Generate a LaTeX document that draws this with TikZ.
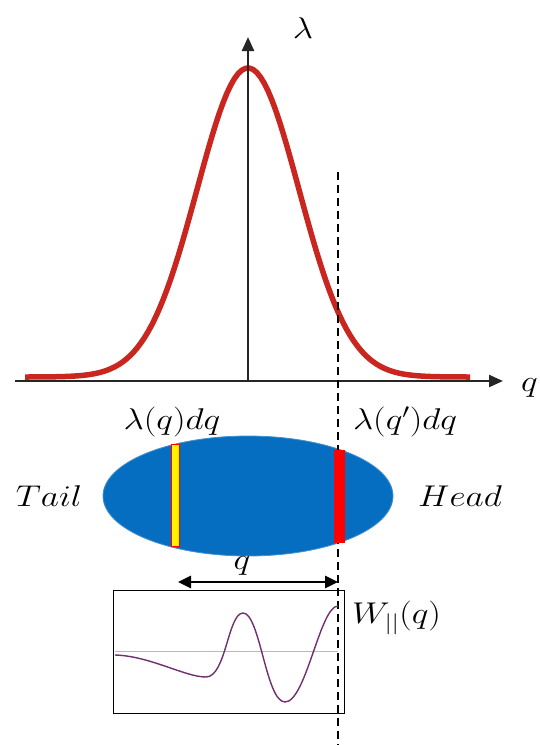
\RequirePackage{fix-cm}
\documentclass[tikz,border=0pt]{standalone}
\usetikzlibrary{arrows.meta,shapes.geometric}
\definecolor{curvered}{RGB}{200,38,30}
\definecolor{bunchblue}{RGB}{6,110,192}
\definecolor{wakepurple}{RGB}{112,48,110}
\newcommand{\wide}[1]{\scalebox{1.18}[1]{#1}}

\begin{document}
\begin{tikzpicture}[x=1pt, y=-1pt,
  axis/.style={-{Triangle[length=14pt,width=12pt]}, line width=2.4pt, black!85},
  lbl/.style={font=\fontsize{30}{36}\selectfont, inner sep=0pt},
  cut/.style={line width=1.6pt, dash pattern=on 8pt off 5pt},
  span/.style={{Triangle[length=13pt,width=12pt]}-{Triangle[length=13pt,width=12pt]}, line width=2.6pt}
]
\useasboundingbox (0,0) rectangle (540,745);

% line charge density
\draw[curvered, line width=5.5pt] plot[domain=25:470, samples=120]
  (\x, {377-309*exp(-((\x-248)/51)^2/2)});

\coordinate (qstart) at (15,381);
\coordinate (qend) at (503,381);
\coordinate (origin) at (248,381);
\coordinate (ltop) at (248,37);
\draw[axis] (qstart) -- (qend);
\draw[axis] (origin) -- (ltop);
\node[lbl] (lam) at (303,28) {\wide{$\lambda$}};
\node[lbl, anchor=west] (qax) at (521,388) {\wide{$q$}};

% bunch
\node[ellipse, fill=bunchblue, draw=bunchblue!75!white, line width=0.8pt,
  minimum width=290pt, minimum height=120pt] (bunch) at (248,496) {};

\coordinate (cuttop) at (338,172);
\coordinate (cutbot) at (338,745);
\draw[cut] (cuttop) -- (cutbot);

\node[fill=yellow, draw=red, line width=1pt, inner sep=0pt,
  minimum width=8pt, minimum height=102pt] (qslice) at (175,495) {};
\node[fill=red, inner sep=0pt, minimum width=11pt, minimum height=93pt] (qpslice) at (339.5,496.5) {};

\node[lbl] (lq) at (172,422) {\wide{$\lambda(q)dq$}};
\node[lbl] (lqp) at (405,422) {\wide{$\lambda(q')dq$}};
\node[lbl] (tail) at (49,496) {\wide{$Tail$}};
\node[lbl] (head) at (460,496) {\wide{$Head$}};

% wake function
\node[draw, line width=0.8pt, inner sep=0pt, minimum width=231pt, minimum height=123pt] (wbox) at (228.5,651.5) {};
\coordinate (zl) at (115,651);
\coordinate (zr) at (338,651);
\draw[gray!55, line width=1pt] (zl) -- (zr);
\draw[wakepurple, line width=1.4pt] (115,655)
  .. controls (150,656) and (185,677) .. (206,677)
  .. controls (226,677) and (228,613) .. (243,613)
  .. controls (260,613) and (266,702) .. (285,702)
  .. controls (306,702) and (320,606) .. (338,606);

\coordinate (wl) at (178,582);
\coordinate (wr) at (338,582);
\draw[span] (wl) -- (wr);
\node[lbl] (qlen) at (242,566) {\wide{$q$}};
\node[lbl, anchor=west] (wlab) at (352,618) {\wide{$W_{||}(q)$}};

\end{tikzpicture}
\end{document}
